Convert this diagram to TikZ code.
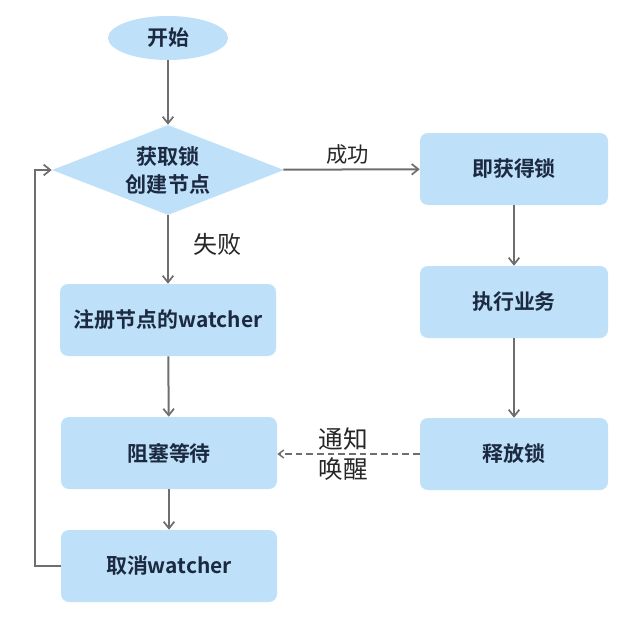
\documentclass[tikz,border=0pt]{standalone}
\usepackage{fontspec}
\setmainfont{Noto Sans CJK SC}[BoldFont={Noto Sans CJK SC Bold}]
\usepackage{tikz}
\usetikzlibrary{shapes.geometric, arrows.meta, positioning}
\definecolor{lockblue}{HTML}{BEE0F8}
\definecolor{locktext}{HTML}{1B2A41}
\definecolor{lockgray}{HTML}{6E6E6E}

\begin{document}
\begin{tikzpicture}[
    x=0.75pt, y=-0.75pt,
    block/.style={rectangle, fill=lockblue, text=locktext, font=\fontsize{15.7}{18}\selectfont\bfseries, align=center, rounded corners=6pt, minimum width=162pt, minimum height=54pt},
    rblock/.style={block, minimum width=141pt},
    startnode/.style={ellipse, fill=lockblue, text=locktext, font=\fontsize{15.7}{18}\selectfont\bfseries, minimum width=90pt, minimum height=33pt},
    decision/.style={diamond, fill=lockblue, text=locktext, font=\fontsize{15.8}{21}\selectfont\bfseries, align=center, shape aspect=2.6, inner sep=0pt, minimum width=174pt, minimum height=67.5pt},
    arrow/.style={-{Straight Barb[length=5pt, width=8pt, line width=1.3pt]}, line width=1.5pt, draw=lockgray},
    lbl/.style={font=\fontsize{16}{20}\selectfont, text=black!85}
]
\useasboundingbox (0,0) rectangle (624,621);
% left column
\node[startnode] (start) at (168,38) {开始};
\node[decision] (lock) at (168,170) {获取锁\\创建节点};
\node[block] (watch) at (168,320) {注册节点的watcher};
\node[block] (wait) at (169,453) {阻塞等待};
\node[block] (cancel) at (169,566) {取消watcher};
% right column
\node[rblock] (got) at (514,169) {即获得锁};
\node[rblock] (work) at (514,302) {执行业务};
\node[rblock] (release) at (514,454) {释放锁};

\draw[arrow] (start) -- (lock);
\draw[arrow] (lock) -- node[lbl, above, pos=0.47] {成功} (got);
\draw[arrow] (lock) -- node[lbl, right, xshift=15pt, pos=0.42, font=\fontsize{18}{20}\selectfont] {失败} (watch);
\draw[arrow] (watch) -- (wait);
\draw[arrow] (wait) -- (cancel);
\draw[arrow] (got) -- (work);
\draw[arrow] (work) -- (release);
\draw[arrow, line width=1.1pt, dashed, dash pattern=on 5pt off 3pt, -{Straight Barb[length=4pt, width=6pt]}] (release.west) -- node[lbl, align=center, xshift=-4pt, font=\fontsize{18.5}{22}\selectfont] {通知\\唤醒} (wait.east |- release.west);
\draw[arrow] (cancel.west) -- ++(-26,0) |- (lock.west);
\end{tikzpicture}
\end{document}
